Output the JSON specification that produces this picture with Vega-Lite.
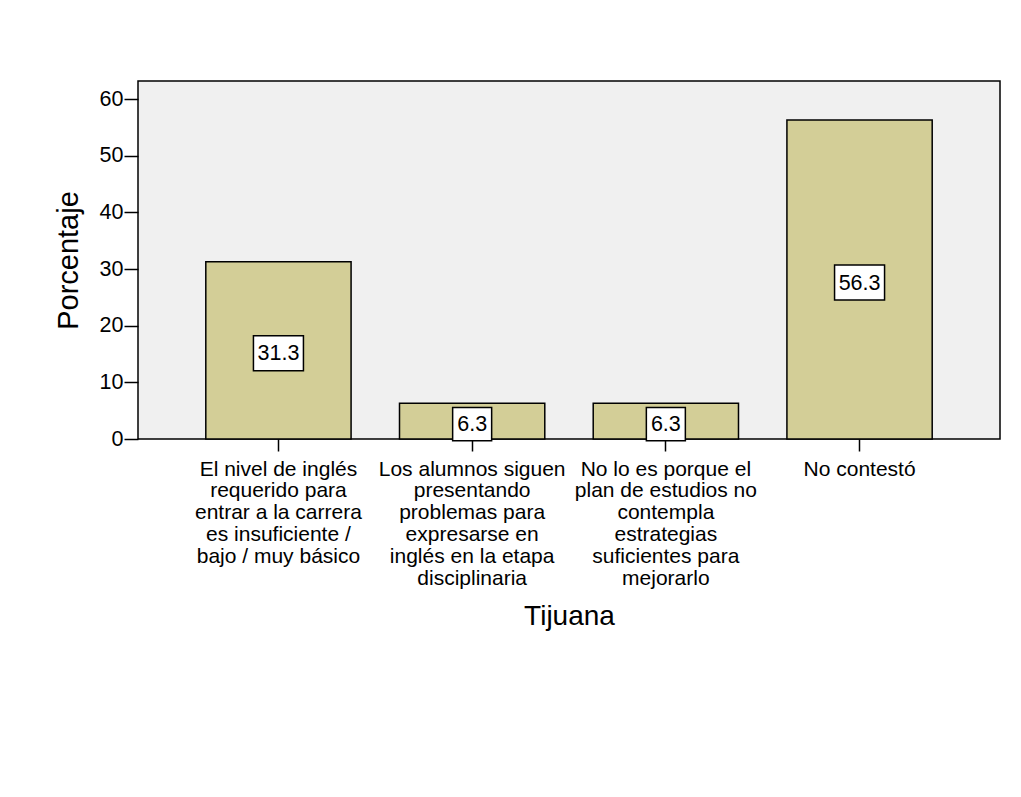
{
  "$schema": "https://vega.github.io/schema/vega-lite/v6.json",
  "autosize": {"type": "none"},
  "padding": {"left": 138, "top": 81, "right": 21, "bottom": 358},
  "width": 862,
  "height": 358,
  "background": "#ffffff",
  "config": {
    "font": "Liberation Sans",
    "view": {"fill": "#F0F0F0", "stroke": "#000000", "strokeWidth": 1.5}
  },
  "data": {
    "values": [
      {"categoria": "El nivel de inglés\nrequerido para\nentrar a la carrera\nes insuficiente /\nbajo / muy básico", "orden": 1, "value": 31.3},
      {"categoria": "Los alumnos siguen\npresentando\nproblemas para\nexpresarse en\ninglés en la etapa\ndisciplinaria", "orden": 2, "value": 6.3},
      {"categoria": "No lo es porque el\nplan de estudios no\ncontempla\nestrategias\nsuficientes para\nmejorarlo", "orden": 3, "value": 6.3},
      {"categoria": "No contestó", "orden": 4, "value": 56.3}
    ]
  },
  "encoding": {
    "x": {
      "field": "categoria",
      "type": "nominal",
      "sort": {"field": "orden"},
      "scale": {"paddingInner": 0.25, "paddingOuter": 0.35},
      "axis": {
        "title": "Tijuana",
        "titleFontSize": 28,
        "titleFontWeight": "normal",
        "titleColor": "#000000",
        "titleBaseline": "alphabetic",
        "titleY": 185,
        "labelAngle": 0,
        "labelExpr": "split(datum.label, '\\n')",
        "labelFontSize": 21,
        "labelLineHeight": 21.8,
        "labelColor": "#000000",
        "labelBaseline": "top",
        "labelPadding": 7,
        "labelLimit": 0,
        "tickSize": 12,
        "tickColor": "#000000",
        "tickWidth": 1.5,
        "domain": false
      }
    }
  },
  "layer": [
    {
      "mark": {"type": "bar", "fill": "#D3CE97", "stroke": "#000000", "strokeWidth": 1.5},
      "encoding": {
        "y": {
          "field": "value",
          "type": "quantitative",
          "scale": {"domain": [0, 63.2], "nice": false},
          "axis": {
            "title": "Porcentaje",
            "titleFontSize": 29,
            "titleFontWeight": "normal",
            "titleColor": "#000000",
            "titleAngle": 270,
            "titleBaseline": "alphabetic",
            "titleAlign": "center",
            "titleX": -61,
            "titleY": 179,
            "values": [0, 10, 20, 30, 40, 50, 60],
            "labelFontSize": 21.5,
            "labelColor": "#000000",
            "labelPadding": 1,
            "tickSize": 14,
            "tickColor": "#000000",
            "tickWidth": 1.5,
            "grid": false,
            "domain": false
          }
        }
      }
    },
    {
      "mark": {"type": "point", "filled": true, "fill": "#ffffff", "stroke": "#000000", "strokeWidth": 1.5, "opacity": 1, "yOffset": 3},
      "encoding": {
        "y": {
          "field": "value",
          "type": "quantitative",
          "scale": {"domain": [0, 126.4], "nice": false},
          "axis": null
        },
        "shape": {
          "condition": {"test": "datum.value < 10", "value": "M-1,-0.85H1V0.85H-1Z"},
          "value": "M-1,-0.7H1V0.7H-1Z"
        },
        "size": {
          "condition": {"test": "datum.value < 10", "value": 1521},
          "value": 2500
        }
      }
    },
    {
      "mark": {"type": "text", "fontSize": 21.5, "color": "#000000", "baseline": "middle", "align": "center", "yOffset": 4},
      "encoding": {
        "y": {
          "field": "value",
          "type": "quantitative",
          "scale": {"domain": [0, 126.4], "nice": false},
          "axis": null
        },
        "text": {"field": "value", "type": "quantitative", "format": ".1f"}
      }
    }
  ],
  "resolve": {"scale": {"y": "independent"}}
}
